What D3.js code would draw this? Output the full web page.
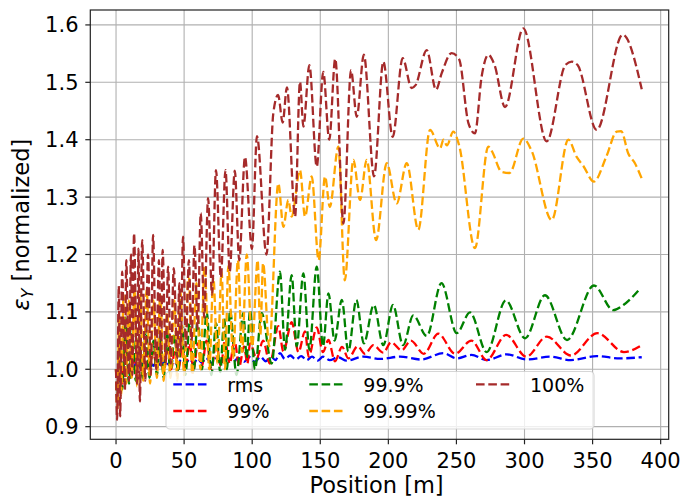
<!DOCTYPE html>
<html>
<head>
<meta charset="utf-8">
<script src="https://cdn.jsdelivr.net/npm/d3@7"></script>
<style>
body { margin: 0; background: #fff; }
svg text { font-family: "DejaVu Sans", sans-serif; fill: #000; }
</style>
</head>
<body>
<div id="chart"></div>
<script>
// normalized vertical emittance along the line, [position m, value] per beam fraction
var rms = [[0,1.0],[1,0.962],[2.5,0.99],[4,0.975],[6,1.0],[8,0.99],[10,1.01],[12.5,1.0],[15,1.012],[17.5,1.003],[20,1.013],[22.5,1.005],[25,1.014],[27.5,1.006],[30,1.015],[33,1.007],[36,1.015],[39,1.008],[42,1.016],[45,1.008],[48,1.017],[51,1.009],[54,1.018],[57,1.01],[60,1.019],[63,1.011],[66,1.02],[70,1.011],[74,1.02],[78,1.012],[82,1.02],[86,1.013],[90,1.02],[94,1.013],[98,1.021],[102,1.013],[106,1.022],[110,1.014],[114,1.022],[117,1.016],[120.4,1.028],[124,1.018],[128,1.024],[132,1.017],[136,1.023],[140,1.016],[144,1.022],[148,1.015],[152,1.022],[157,1.016],[163,1.021],[169.4,1.015],[181.6,1.022],[194,1.018],[208.6,1.022],[224,1.017],[240.4,1.028],[250.2,1.019],[261,1.025],[272.2,1.016],[287,1.026],[301.6,1.017],[318.7,1.022],[334,1.016],[353,1.023],[370,1.019],[386.1,1.021]];

var p99 = [[0,1.0],[1,0.95],[2.5,1.04],[4.5,0.975],[7,1.05],[9.5,0.99],[12,1.04],[14.5,0.99],[17,1.035],[19.5,0.995],[22,1.04],[24.5,0.995],[27.5,1.03],[30,1.0],[32.5,1.035],[35,0.995],[38,1.035],[40.5,1.0],[43,1.03],[46,1.0],[48.5,1.04],[51,1.0],[54,1.045],[57,1.0],[60,1.045],[63,1.005],[66.5,1.05],[70,1.0],[73.5,1.045],[77,1.005],[80,1.05],[83.5,1.01],[87,1.05],[90.5,1.005],[94,1.04],[96.5,1.01],[98.4,1.045],[103.3,1.019],[108,1.05],[113,1.01],[119.2,1.075],[122.9,1.031],[129,1.082],[134,1.03],[138.8,1.066],[141.5,1.022],[147.4,1.073],[152,1.03],[156,1.051],[160.8,1.014],[166,1.039],[170.6,1.019],[177.5,1.04],[182.9,1.027],[189,1.042],[196.3,1.029],[202,1.047],[209.8,1.033],[216.5,1.05],[226,1.027],[236.7,1.062],[249,1.027],[261,1.05],[272.2,1.016],[286.5,1.06],[301.3,1.022],[316.4,1.057],[334,1.024],[353.5,1.063],[373,1.03],[386.1,1.042]];

var p999 = [[0,1.0],[1,0.945],[2.5,1.06],[4.5,0.965],[7,1.09],[9.5,0.975],[12,1.07],[14.5,0.98],[17,1.06],[19.5,0.985],[22,1.07],[24.5,0.985],[27.5,1.05],[30,0.99],[32.5,1.06],[35,0.985],[37.5,1.065],[40,0.99],[43,1.06],[45.5,0.995],[48.5,1.075],[51,0.99],[54,1.08],[57,0.995],[60,1.09],[63,1.0],[66.6,1.1],[70,0.99],[73.5,1.08],[76.5,0.995],[79.5,1.09],[81.5,1.0],[83.7,1.103],[88.5,0.99],[93.5,1.098],[96,1.02],[98.4,1.103],[102,1.0],[107,1.098],[114.3,1.01],[120.4,1.17],[124.1,1.034],[129,1.164],[132.7,1.04],[137.6,1.167],[142,1.034],[147.4,1.179],[152,1.04],[156,1.132],[160.5,1.05],[165.8,1.121],[170.6,1.031],[176.5,1.121],[182,1.045],[189.3,1.112],[196.3,1.042],[203.4,1.112],[210.8,1.042],[218.3,1.094],[228.2,1.058],[239,1.15],[250.2,1.063],[260,1.099],[272.2,1.03],[286.3,1.12],[300.4,1.054],[315,1.129],[331.2,1.051],[351,1.146],[365.2,1.103],[372.6,1.112],[385,1.141]];

var p9999 = [[0,1.0],[1,0.93],[2.3,1.09],[3.8,0.955],[5.5,1.13],[7.5,0.975],[9.5,1.12],[11.5,0.985],[13.5,1.14],[15.5,0.97],[17.8,1.13],[20,0.98],[22.5,1.14],[25,0.975],[27.5,1.12],[30,0.985],[32.5,1.13],[35,0.98],[37.5,1.1],[40,0.985],[42.8,1.12],[45,0.98],[47.3,1.135],[50,0.99],[53.3,1.17],[56,0.99],[59,1.15],[62,1.0],[65,1.18],[68.5,1.0],[71.5,1.16],[74.5,1.01],[77.5,1.17],[80,1.0],[82.5,1.18],[86,1.02],[89.5,1.19],[92.5,1.03],[96,1.2],[100,1.04],[104,1.19],[106,1.06],[108,1.185],[112.5,1.04],[119.2,1.324],[122.9,1.248],[126.5,1.295],[129,1.266],[135.1,1.347],[138.8,1.266],[143.7,1.336],[148.8,1.19],[153.5,1.336],[157,1.283],[163.3,1.388],[168,1.155],[174.3,1.365],[179.2,1.295],[184.1,1.365],[191,1.225],[198.8,1.359],[206.1,1.289],[213.5,1.359],[222,1.243],[230.6,1.417],[238,1.385],[240.5,1.4],[243,1.39],[247.7,1.414],[252,1.39],[263.6,1.211],[273.4,1.388],[276,1.38],[283.2,1.344],[289,1.342],[299.1,1.402],[305,1.382],[320,1.26],[332.2,1.4],[338.3,1.37],[343,1.355],[351,1.327],[360,1.37],[367.7,1.414],[371,1.415],[376.2,1.376],[381.1,1.359],[386,1.333]];

var p100 = [[0,1.0],[0.8,0.912],[2,1.145],[3,0.918],[4.5,1.17],[6.5,0.964],[7.5,1.19],[9.5,0.98],[11,1.2],[12,0.99],[13.2,1.237],[15.5,0.975],[16.5,1.21],[17.5,0.944],[19.2,1.225],[21.5,0.98],[23.5,1.2],[25.5,0.99],[27.2,1.234],[29.5,1.0],[31.5,1.19],[33,1.005],[34.2,1.208],[36.5,1.01],[38.2,1.179],[40.2,1.01],[42.4,1.176],[45,1.02],[46.5,1.15],[47.5,1.03],[49.2,1.231],[51.3,1.04],[53.5,1.19],[55.5,1.05],[57.6,1.216],[60,1.07],[62.2,1.272],[64.8,1.09],[67.6,1.298],[70.5,1.13],[73.4,1.347],[77,1.16],[80.4,1.347],[83.5,1.17],[87.2,1.346],[90.5,1.19],[94.7,1.37],[99.8,1.21],[103.5,1.406],[110.5,1.2],[115.5,1.446],[119,1.478],[122.4,1.43],[125.5,1.491],[131.5,1.266],[135.1,1.501],[137.6,1.423],[142,1.53],[147.4,1.353],[152.2,1.518],[156.6,1.4],[161,1.541],[167,1.254],[172.6,1.521],[176.8,1.44],[182,1.548],[189.5,1.336],[196.3,1.536],[203.2,1.405],[210.5,1.542],[217.1,1.49],[220,1.495],[228.2,1.556],[235,1.487],[239.2,1.516],[246.5,1.551],[252,1.54],[258.8,1.429],[263.6,1.411],[268.5,1.51],[273.4,1.548],[278,1.53],[285.7,1.457],[299.1,1.594],[316.3,1.397],[330,1.53],[334.7,1.536],[339,1.53],[353,1.417],[372.1,1.583],[386.1,1.488]];

var seriesData = [rms, p99, p999, p9999, p100];
var seriesNames = ["rms", "99%", "99.9%", "99.99%", "100%"];
var seriesColors = ["blue", "red", "green", "orange", "brown"];
var xTicks = [0, 50, 100, 150, 200, 250, 300, 350, 400];
var yTicks = [0.9, 1.0, 1.1, 1.2, 1.3, 1.4, 1.5, 1.6];

drawChart();

function drawChart() {
    var width = 680, height = 501;
    var plotLeft = 90.3, plotRight = 668.7, plotTop = 10, plotBottom = 439.3;

    var svg = d3.select("#chart").append("svg")
        .attr("width", width)
        .attr("height", height);

    var x = d3.scaleLinear().domain([-18.9, 405.9]).range([plotLeft, plotRight]);
    var y = d3.scaleLinear().domain([0.878, 1.626]).range([plotBottom, plotTop]);

    // grid
    svg.append("g").selectAll("line")
        .data(xTicks)
        .enter().append("line")
        .attr("x1", d => x(d)).attr("x2", d => x(d))
        .attr("y1", plotTop).attr("y2", plotBottom)
        .attr("stroke", "#b0b0b0").attr("stroke-width", 1.1);
    svg.append("g").selectAll("line")
        .data(yTicks)
        .enter().append("line")
        .attr("x1", plotLeft).attr("x2", plotRight)
        .attr("y1", d => y(d)).attr("y2", d => y(d))
        .attr("stroke", "#b0b0b0").attr("stroke-width", 1.1);

    svg.append("clipPath").attr("id", "plot-clip")
        .append("rect")
        .attr("x", plotLeft).attr("y", plotTop)
        .attr("width", plotRight - plotLeft).attr("height", plotBottom - plotTop);

    var line = d3.line()
        .x(d => x(d[0]))
        .y(d => y(d[1]))
        .curve(d3.curveMonotoneX);

    svg.append("g").attr("clip-path", "url(#plot-clip)")
        .selectAll("path")
        .data(seriesData)
        .enter().append("path")
        .attr("d", line)
        .attr("fill", "none")
        .attr("stroke", (d, i) => seriesColors[i])
        .attr("stroke-width", 2.3)
        .attr("stroke-dasharray", "8.6,3.7");

    // legend, three columns, filled column by column
    var legend = svg.append("g");
    legend.append("rect")
        .attr("x", 166).attr("y", 371.5)
        .attr("width", 428).attr("height", 57.5)
        .attr("rx", 4)
        .attr("fill", "white").attr("fill-opacity", 0.8)
        .attr("stroke", "#cccccc").attr("stroke-opacity", 0.8).attr("stroke-width", 1.1);

    var colX = [173.3, 309.3, 476];
    var rowY = [384.3, 411];
    seriesNames.forEach(function(name, i) {
        var cx = colX[Math.floor(i / 2)];
        var cy = rowY[i % 2];
        legend.append("line")
            .attr("x1", cx).attr("x2", cx + 35)
            .attr("y1", cy).attr("y2", cy)
            .attr("stroke", seriesColors[i])
            .attr("stroke-width", 2.3)
            .attr("stroke-dasharray", "8.6,3.7");
        legend.append("text")
            .attr("x", cx + 54).attr("y", cy + 7.2)
            .attr("font-size", 19)
            .text(name);
    });

    // axes frame and ticks
    svg.append("rect")
        .attr("x", plotLeft).attr("y", plotTop)
        .attr("width", plotRight - plotLeft).attr("height", plotBottom - plotTop)
        .attr("fill", "none").attr("stroke", "#222").attr("stroke-width", 1.2);

    svg.append("g").selectAll("line")
        .data(xTicks)
        .enter().append("line")
        .attr("x1", d => x(d)).attr("x2", d => x(d))
        .attr("y1", plotBottom).attr("y2", plotBottom + 5)
        .attr("stroke", "#222").attr("stroke-width", 1.2);
    svg.append("g").selectAll("text")
        .data(xTicks)
        .enter().append("text")
        .attr("x", d => x(d)).attr("y", 467.5)
        .attr("text-anchor", "middle")
        .attr("font-size", 21)
        .text(d => d);

    svg.append("g").selectAll("line")
        .data(yTicks)
        .enter().append("line")
        .attr("x1", plotLeft - 5).attr("x2", plotLeft)
        .attr("y1", d => y(d)).attr("y2", d => y(d))
        .attr("stroke", "#222").attr("stroke-width", 1.2);
    svg.append("g").selectAll("text")
        .data(yTicks)
        .enter().append("text")
        .attr("x", 78.5).attr("y", d => y(d))
        .attr("dy", "0.36em")
        .attr("text-anchor", "end")
        .attr("font-size", 21)
        .text(d => d3.format(".1f")(d));

    svg.append("text")
        .attr("x", (plotLeft + plotRight) / 2 - 3).attr("y", 493)
        .attr("text-anchor", "middle")
        .attr("font-size", 22.5)
        .text("Position [m]");

    var ylab = svg.append("text")
        .attr("transform", "translate(29," + ((plotTop + plotBottom) / 2) + ") rotate(-90)")
        .attr("text-anchor", "middle")
        .attr("font-size", 22.5);
    ylab.append("tspan").attr("font-style", "italic").text("ε");
    ylab.append("tspan").attr("font-style", "italic").attr("font-size", 16).attr("dy", 4).text("Y");
    ylab.append("tspan").attr("dy", -4).text(" [normalized]");
}
</script>
</body>
</html>
